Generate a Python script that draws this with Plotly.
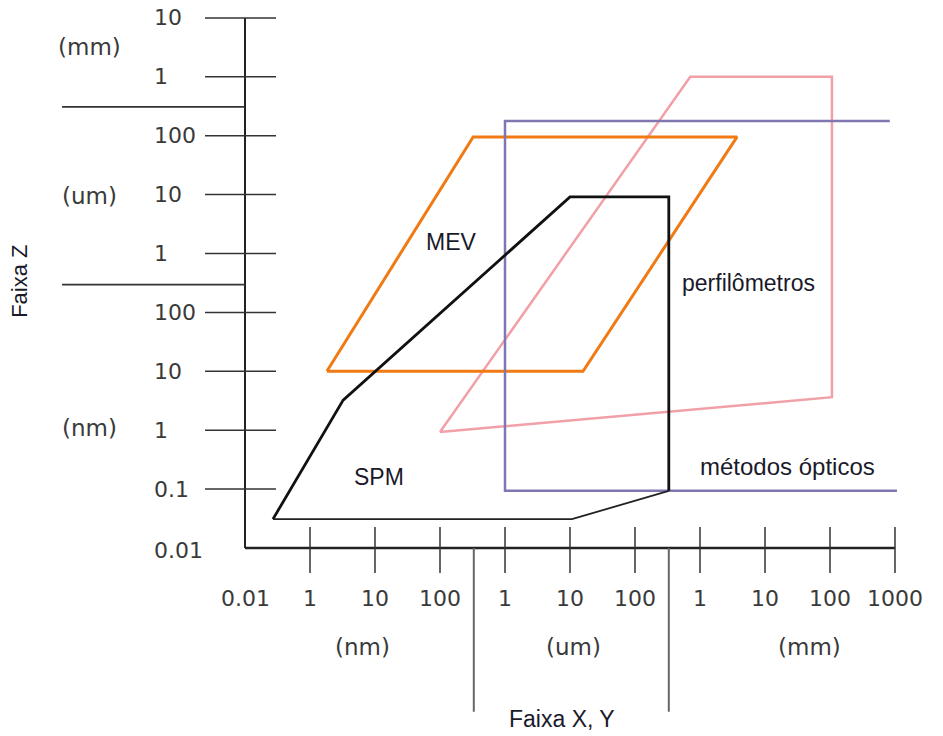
import plotly.graph_objects as go

# ---- data (decade-index coordinates of the schematic) ----
x_tick_labels = ["0.01", "1", "10", "100", "1", "10", "100", "1", "10", "100", "1000"]
x_tick_pos = list(range(11))
x_unit_labels = ["(nm)", "(um)", "(mm)"]
x_unit_pos = [1.8, 5.05, 8.68]
x_group_breaks = [3.52, 6.52]

y_tick_labels = ["0.01", "0.1", "1", "10", "100", "1", "10", "100", "1", "10"]
y_tick_pos = list(range(10))
y_unit_labels = ["(nm)", "(um)", "(mm)"]
y_unit_pos = [2.04, 5.98, 8.5]
y_group_breaks = [4.47, 7.49]

spm_x = [0.43, 1.51, 5.0, 6.52, 6.52]
spm_y = [0.49, 2.51, 5.96, 5.96, 0.97]
spm_base_x = [6.52, 5.03, 0.43]
spm_base_y = [0.97, 0.49, 0.49]

mev_x = [1.26, 5.2, 7.57, 3.51, 1.26]
mev_y = [3.0, 3.0, 6.98, 6.98, 3.0]

perf_x = [3.0, 6.85, 9.03, 9.03, 3.0]
perf_y = [1.97, 8.0, 8.0, 2.56, 1.97]

opt_x = [10.03, 4.0, 4.0, 9.92]
opt_y = [0.97, 0.97, 7.25, 7.25]

region_labels = ["MEV", "SPM", "perfilômetros", "métodos ópticos"]
region_label_x = [3.18, 2.06, 7.75, 8.34]
region_label_y = [5.2, 1.2, 4.5, 1.38]

WORD_FONT = "Liberation Sans, Arial, sans-serif"
NUM_FONT = "DejaVu Sans, sans-serif"
TXT = "#3a3a3a"

fig = go.Figure()

def line(xs, ys, color, width):
    fig.add_trace(go.Scatter(x=xs, y=ys, mode="lines",
                             line=dict(color=color, width=width),
                             hoverinfo="skip", showlegend=False))

# axes
line([0, 0], [0, y_tick_pos[-1]], "#222222", 2)
line([0, x_tick_pos[-1]], [0, 0], "#222222", 2.5)
for j in y_tick_pos[1:]:
    line([-0.615, 0.477], [j, j], "#333333", 1.5)
for i in x_tick_pos[1:]:
    line([i, i], [0.357, -0.424], "#333333", 1.5)
for b in y_group_breaks:
    line([-2.815, 0], [b, b], "#333333", 1.8)
for b in x_group_breaks:
    line([b, b], [0, -2.78], "#666666", 2)

# regions
line(perf_x, perf_y, "#F2A0A8", 2.5)
line(mev_x, mev_y, "#F07A14", 3)
line(opt_x, opt_y, "#8077B0", 2.5)
line(spm_x, spm_y, "#111111", 2.8)
line(spm_base_x, spm_base_y, "#222222", 1.8)

ann = []
for i, t in zip(x_tick_pos, x_tick_labels):
    ann.append(dict(x=i, y=-0.85, text=t, showarrow=False,
                    xanchor="center", yanchor="middle",
                    font=dict(family=NUM_FONT, size=22, color=TXT)))
for j, t in zip(y_tick_pos, y_tick_labels):
    ann.append(dict(x=-1.43, y=j - (0.04 if j == 0 else 0), text=t, showarrow=False,
                    xanchor="left", yanchor="middle",
                    font=dict(family=NUM_FONT, size=22, color=TXT)))
for p, t in zip(x_unit_pos, x_unit_labels):
    ann.append(dict(x=p, y=-1.68, text=t, showarrow=False,
                    xanchor="center", yanchor="middle",
                    font=dict(family=NUM_FONT, size=23, color=TXT)))
for p, t in zip(y_unit_pos, y_unit_labels):
    ann.append(dict(x=-2.4, y=p, text=t, showarrow=False,
                    xanchor="center", yanchor="middle",
                    font=dict(family=NUM_FONT, size=23, color=TXT)))
for x, y, t in zip(region_label_x, region_label_y, region_labels):
    ann.append(dict(x=x, y=y, text=t, showarrow=False,
                    xanchor="center", yanchor="middle",
                    font=dict(family=WORD_FONT, size=23 if t != "métodos ópticos" else 24,
                              color="#1a1a2a")))
ann.append(dict(x=4.88, y=-2.9, text="Faixa X, Y", showarrow=False,
                xanchor="center", yanchor="middle",
                font=dict(family=WORD_FONT, size=23, color="#1a1a2a")))
ann.append(dict(x=-3.46, y=4.52, text="Faixa Z", showarrow=False, textangle=-90,
                xanchor="center", yanchor="middle",
                font=dict(family=WORD_FONT, size=22, color="#1a1a2a")))

W, H = 943, 736
fig.update_layout(
    width=W, height=H,
    margin=dict(l=0, r=0, t=0, b=0),
    paper_bgcolor="white", plot_bgcolor="white",
    xaxis=dict(range=[-245 / 65, (W - 245) / 65], visible=False, fixedrange=True),
    yaxis=dict(range=[(548 - H) / 58.9, 548 / 58.9], visible=False, fixedrange=True),
    annotations=ann,
    showlegend=False,
)

fig.write_html("out.html", config={"displayModeBar": False},
               post_script="document.body.style.margin='0';document.body.style.overflow='hidden';")
